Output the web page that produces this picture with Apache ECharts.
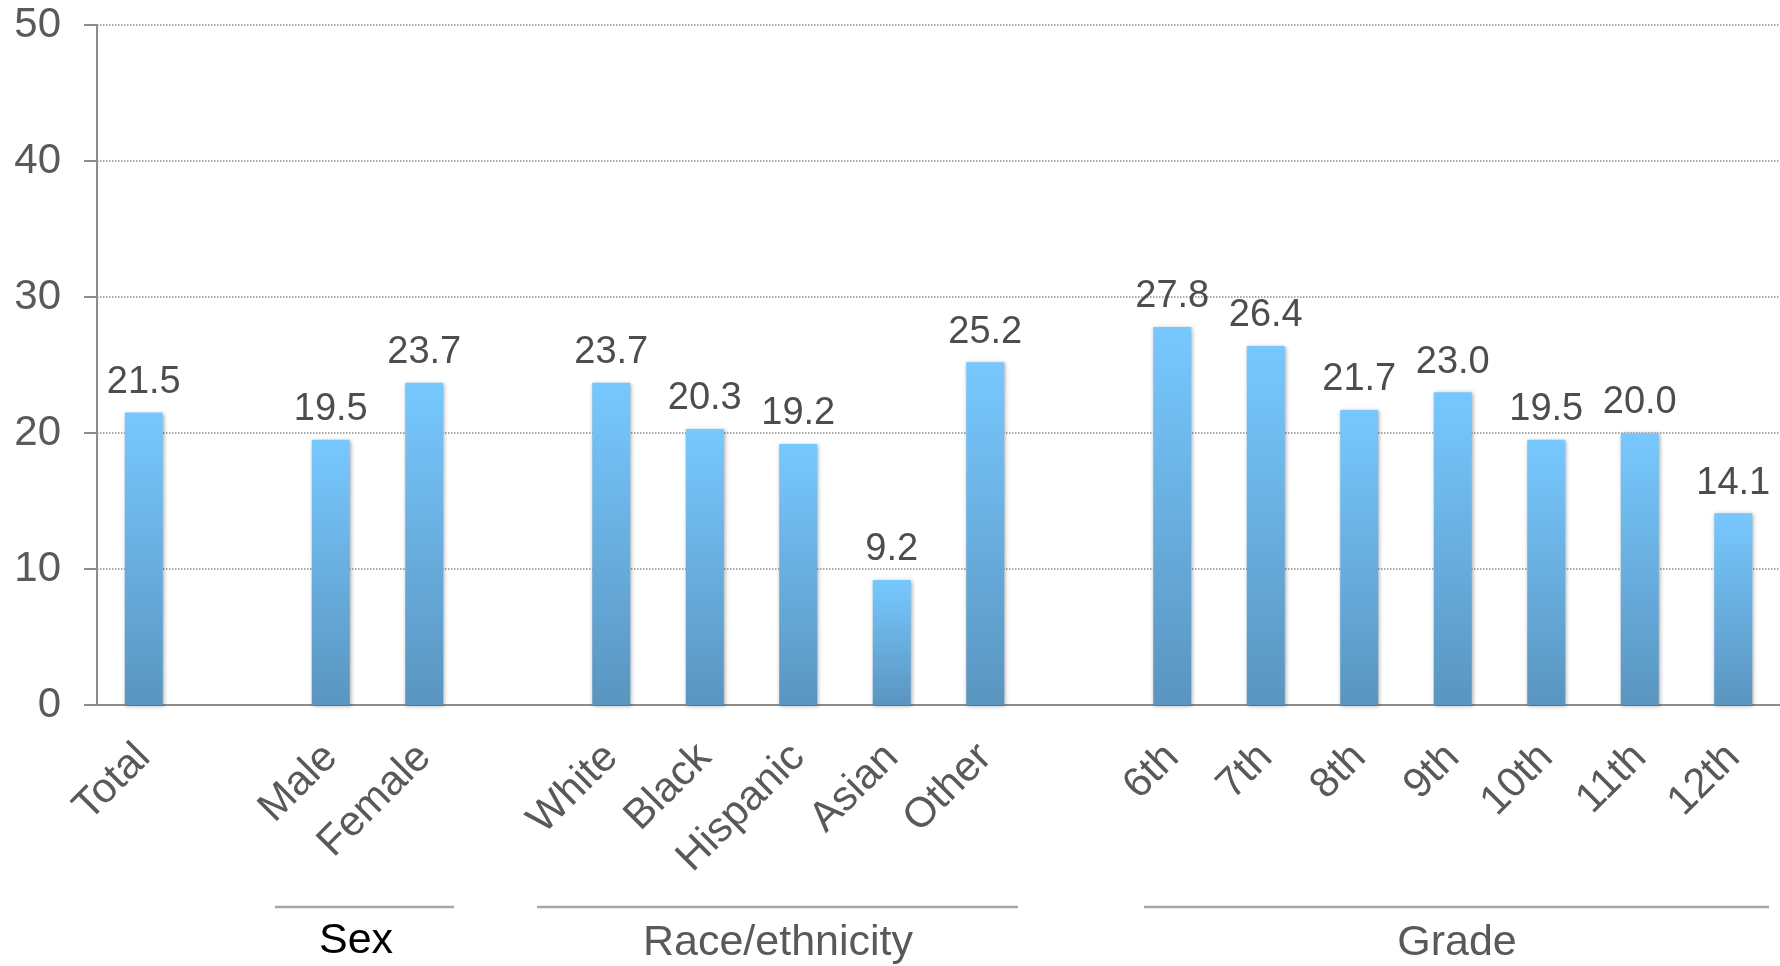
<!DOCTYPE html>
<html>
<head>
<meta charset="utf-8">
<script src="https://cdn.jsdelivr.net/npm/echarts@6/dist/echarts.min.js"></script>
<style>
html,body{margin:0;padding:0;background:#fff;}
#chart{width:1780px;height:966px;}
</style>
</head>
<body>
<div id="chart"></div>
<script>
// ---- data ----
const totalCats = ['Total'];
const totalVals = [21.5];
const sexCats = ['Male', 'Female'];
const sexVals = [19.5, 23.7];
const raceCats = ['White', 'Black', 'Hispanic', 'Asian', 'Other'];
const raceVals = [23.7, 20.3, 19.2, 9.2, 25.2];
const gradeCats = ['6th', '7th', '8th', '9th', '10th', '11th', '12th'];
const gradeVals = [27.8, 26.4, 21.7, 23.0, 19.5, 20.0, 14.1];
const groupTitles = ['Sex', 'Race/ethnicity', 'Grade'];
const yTicks = [0, 10, 20, 30, 40, 50];

// build category list with blank gap slots between groups
const groups = [[totalCats, totalVals], [sexCats, sexVals], [raceCats, raceVals], [gradeCats, gradeVals]];
const categories = [];
const values = [];
groups.forEach((g, gi) => {
  if (gi > 0) { categories.push(' '.repeat(gi)); values.push(null); }
  g[0].forEach((c, i) => { categories.push(c); values.push(g[1][i]); });
});

const FONT = '"Liberation Sans", Arial, sans-serif';
const chart = echarts.init(document.getElementById('chart'));
chart.setOption({
  animation: false,
  backgroundColor: '#ffffff',
  grid: { left: 97, top: 25, bottom: 261, width: 1688, containLabel: false },
  xAxis: {
    type: 'category',
    data: categories,
    axisLine: { show: true, lineStyle: { color: '#8c8c8c', width: 2 } },
    axisTick: { show: false },
    axisLabel: {
      interval: 0, rotate: 45, margin: 46,
      fontFamily: FONT, fontSize: 42, color: '#595959'
    },
    splitLine: { show: false }
  },
  yAxis: {
    type: 'value',
    min: yTicks[0], max: yTicks[yTicks.length - 1], interval: 10,
    axisLine: { show: true, lineStyle: { color: '#8c8c8c', width: 2 } },
    axisTick: { show: true, length: 13, lineStyle: { color: '#8c8c8c', width: 2 } },
    axisLabel: { margin: 36, fontFamily: FONT, fontSize: 42, color: '#595959' },
    splitLine: { show: true, lineStyle: { color: '#8c8c8c', type: 'dotted', width: 1.5 } }
  },
  series: [{
    type: 'bar',
    data: values,
    barWidth: 38,
    itemStyle: {
      color: new echarts.graphic.LinearGradient(0, 0, 0, 1, [
        { offset: 0, color: '#77c8ff' },
        { offset: 1, color: '#5a95c0' }
      ]),
      shadowColor: 'rgba(0,0,0,0.35)',
      shadowBlur: 4,
      shadowOffsetX: 1,
      shadowOffsetY: 1
    },
    label: {
      show: true, position: 'top', distance: 11,
      fontFamily: FONT, fontSize: 38, color: '#4d4d4d',
      formatter: p => (p.value == null ? '' : Number(p.value).toFixed(1))
    }
  }],
  graphic: [
    { type: 'line', shape: { x1: 275, y1: 907, x2: 454, y2: 907 }, style: { stroke: '#a6a6a6', lineWidth: 2.5 } },
    { type: 'line', shape: { x1: 537, y1: 907, x2: 1018, y2: 907 }, style: { stroke: '#a6a6a6', lineWidth: 2.5 } },
    { type: 'line', shape: { x1: 1144, y1: 907, x2: 1769, y2: 907 }, style: { stroke: '#a6a6a6', lineWidth: 2.5 } },
    { type: 'text', x: 356, y: 941, style: { text: groupTitles[0], font: '43px ' + FONT, fill: '#000000', textAlign: 'center', textVerticalAlign: 'middle' } },
    { type: 'text', x: 778, y: 943, style: { text: groupTitles[1], font: '43px ' + FONT, fill: '#595959', textAlign: 'center', textVerticalAlign: 'middle' } },
    { type: 'text', x: 1457, y: 943, style: { text: groupTitles[2], font: '43px ' + FONT, fill: '#595959', textAlign: 'center', textVerticalAlign: 'middle' } }
  ]
});
</script>
</body>
</html>
